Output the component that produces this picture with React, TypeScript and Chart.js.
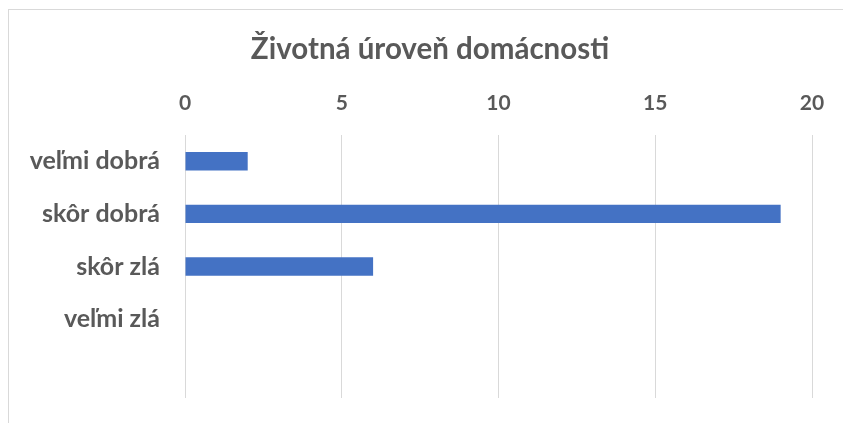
import React, { useEffect, useRef } from "react";
import { Chart, registerables } from "chart.js";

Chart.register(...registerables);

const title = "Životná úroveň domácnosti";
const categories = ["veľmi dobrá", "skôr dobrá", "skôr zlá", "veľmi zlá", ""];
const values: (number | null)[] = [2, 19, 6, 0, null];
const xMin = 0;
const xMax = 20;
const xStep = 5;

const FONT = "Lato, 'Open Sans', sans-serif";
const TEXT = "#595959";
const GRID = "#d9d9d9";
const BAR = "#4472C4";

const titlePlugin = {
  id: "centeredTitle",
  afterDraw(chart: any) {
    const ctx = chart.ctx;
    ctx.save();
    ctx.fillStyle = TEXT;
    ctx.font = `bold 29.5px ${FONT}`;
    ctx.textAlign = "center";
    ctx.textBaseline = "middle";
    ctx.fillText(title, 430, 49);
    ctx.restore();
  },
};

export default function App() {
  const ref = useRef<HTMLCanvasElement | null>(null);

  useEffect(() => {
    if (!ref.current) return;
    const chart = new Chart(ref.current, {
      type: "bar",
      data: {
        labels: categories,
        datasets: [
          {
            data: values,
            backgroundColor: BAR,
            borderWidth: 0,
            categoryPercentage: 1,
            barPercentage: 0.35,
          },
        ],
      },
      plugins: [titlePlugin],
      options: {
        indexAxis: "y",
        animation: false,
        responsive: false,
        maintainAspectRatio: false,
        layout: { padding: { top: 0, right: 31, bottom: 25, left: 0 } },
        plugins: {
          legend: { display: false },
          tooltip: { enabled: false },
          title: { display: false },
        },
        scales: {
          x: {
            position: "top",
            min: xMin,
            max: xMax,
            ticks: {
              stepSize: xStep,
              color: TEXT,
              font: { family: FONT, size: 21, weight: "bold" },
              padding: 19,
            },
            grid: { color: GRID, lineWidth: 1, drawTicks: false },
            border: { display: false },
            afterFit: (scale: any) => {
              scale.height = 135;
              scale.paddingLeft = 0;
              scale.paddingRight = 0;
            },
          },
          y: {
            ticks: {
              color: TEXT,
              font: { family: FONT, size: 25, weight: "bold" },
              padding: 17,
            },
            grid: { display: false },
            border: { display: false },
            afterFit: (scale: any) => {
              scale.width = 185;
              scale.paddingTop = 0;
              scale.paddingBottom = 0;
            },
          },
        },
      },
    });
    return () => chart.destroy();
  }, []);

  return (
    <div
      style={{
        position: "fixed",
        left: 0,
        top: 0,
        width: 843,
        height: 423,
        overflow: "hidden",
        background: "#ffffff",
      }}
    >
      <div
        style={{
          position: "absolute",
          left: 8,
          top: 9,
          width: 900,
          height: 500,
          border: `1px solid ${GRID}`,
          boxSizing: "border-box",
        }}
      />
      <canvas
        ref={ref}
        width={843}
        height={423}
        style={{ position: "absolute", left: 0, top: 0, width: 843, height: 423 }}
      />
    </div>
  );
}
